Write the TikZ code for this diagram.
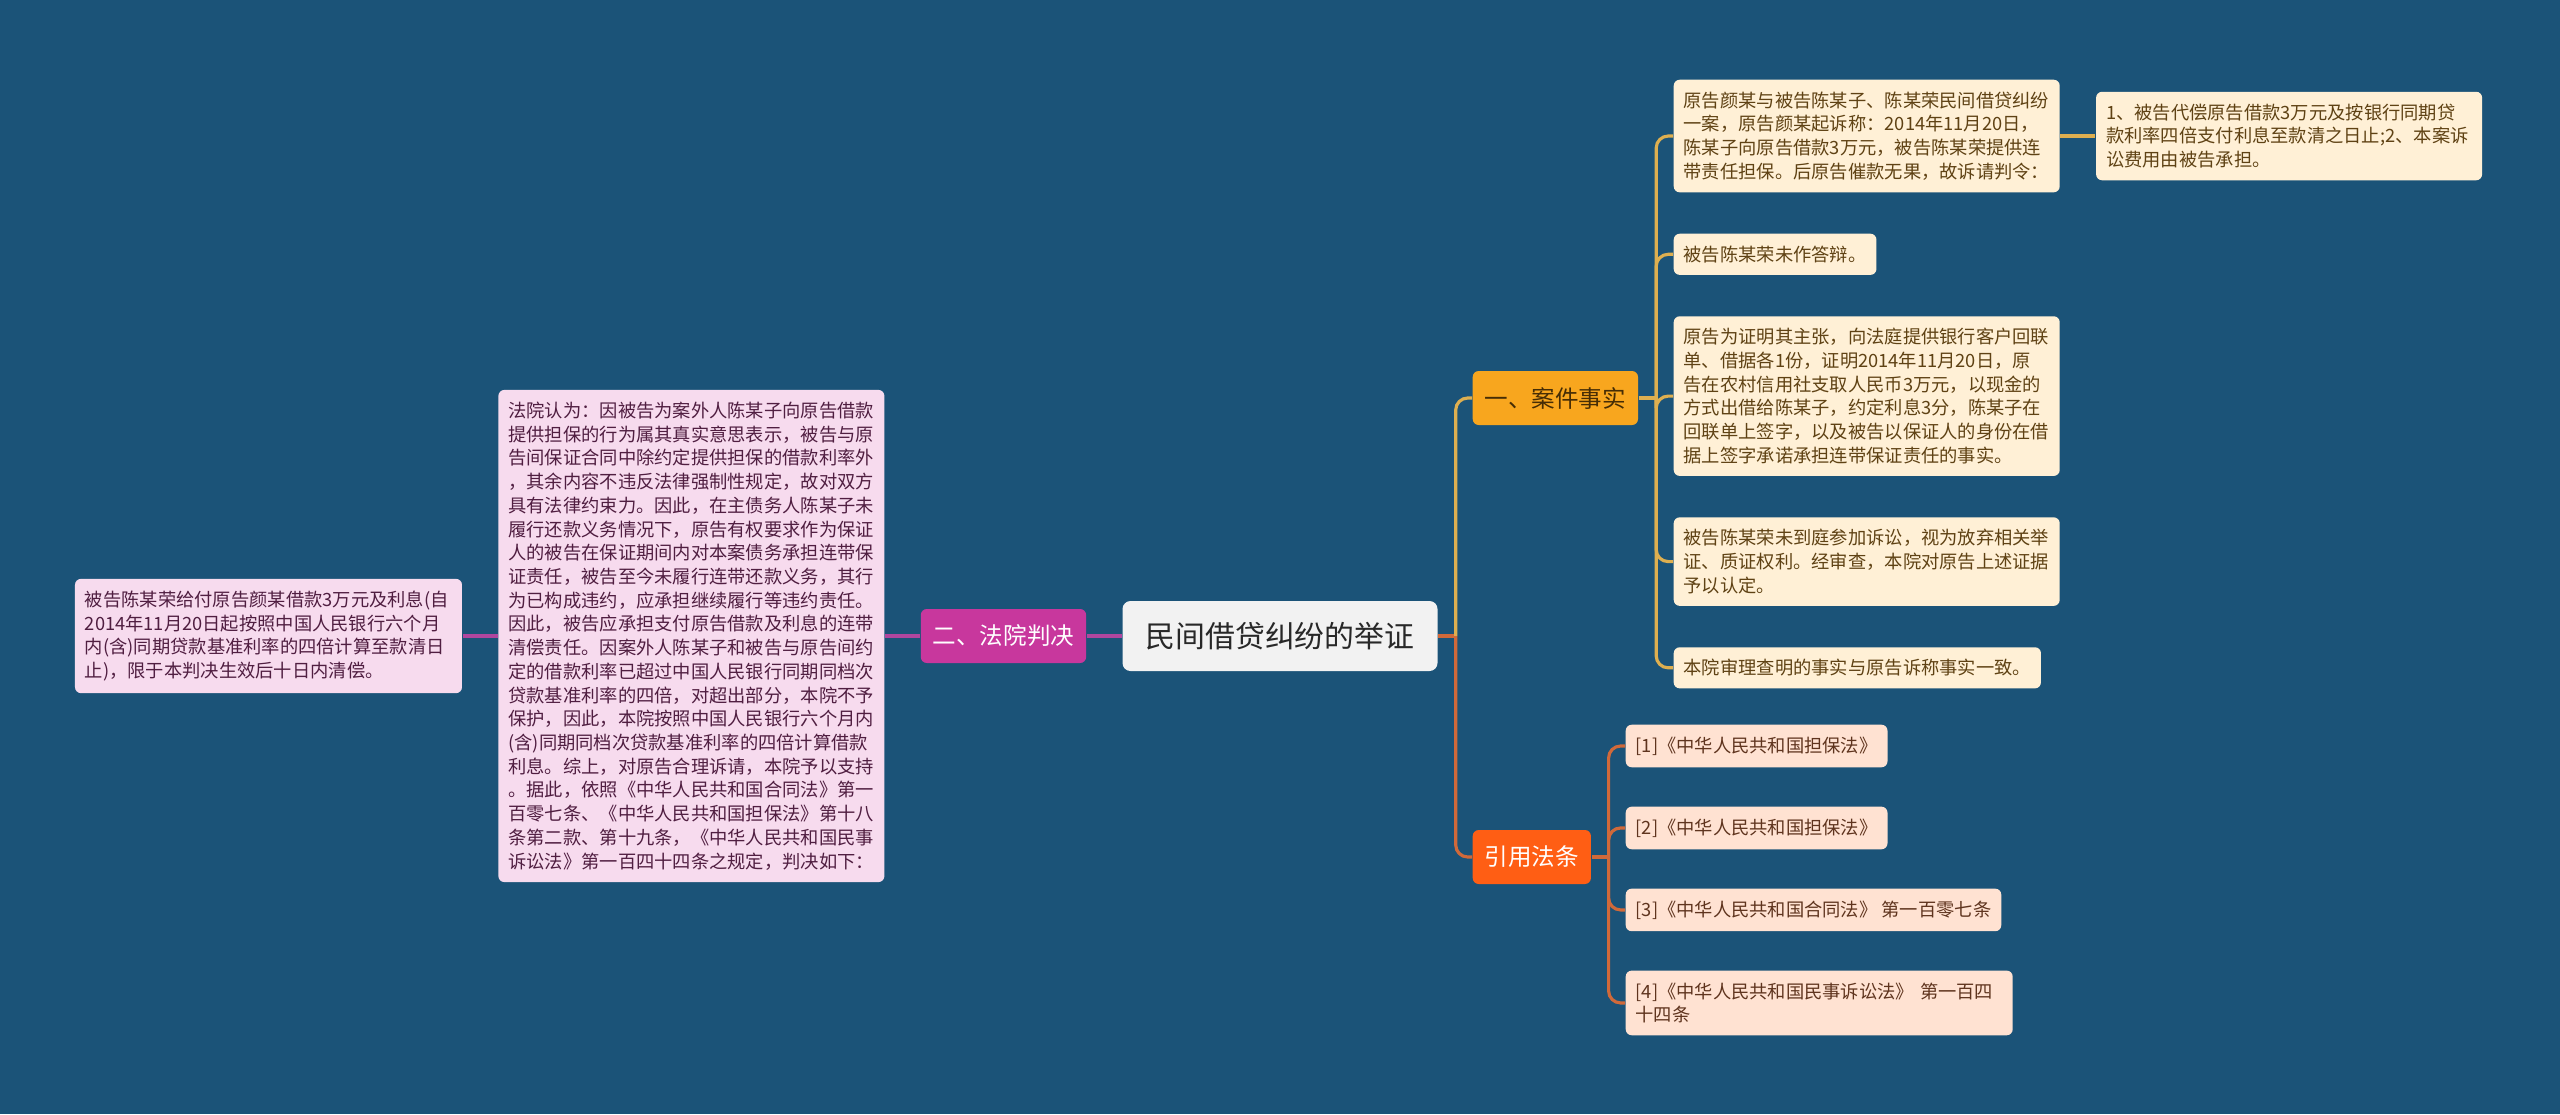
\documentclass[tikz,border=0pt]{standalone}
\usepackage{fontspec}
\setmainfont{Noto Sans CJK SC}
\usetikzlibrary{positioning}
\definecolor{bgblue}{RGB}{27,83,120}
\definecolor{rootfill}{RGB}{242,242,242}
\definecolor{roottext}{RGB}{40,40,40}
\definecolor{judgefill}{RGB}{200,55,157}
\definecolor{courtfill}{RGB}{247,219,238}
\definecolor{courttext}{RGB}{80,30,65}
\definecolor{courtcol}{RGB}{176,70,158}
\definecolor{factsfill}{RGB}{248,166,30}
\definecolor{factstext}{RGB}{70,45,5}
\definecolor{factfill}{RGB}{255,240,214}
\definecolor{facttext}{RGB}{95,66,20}
\definecolor{factcol}{RGB}{222,175,80}
\definecolor{lawsfill}{RGB}{255,94,20}
\definecolor{lawfill}{RGB}{255,226,210}
\definecolor{lawtext}{RGB}{95,52,30}
\definecolor{lawcol}{RGB}{208,105,58}

\begin{document}
\begin{tikzpicture}[node distance=0.35cm,
  rootbox/.style={fill=rootfill, text=roottext, rounded corners=0.08cm,
    font=\fontsize{8.5pt}{10pt}\selectfont, minimum width=3.15cm, minimum height=0.70cm},
  branch/.style={rounded corners=0.06cm, font=\fontsize{6.7pt}{8pt}\selectfont,
    minimum height=0.54cm, inner xsep=0.12cm},
  leaf/.style={rounded corners=0.06cm, align=left, font=\fontsize{5.2pt}{6.75pt}\selectfont,
    inner xsep=0.10cm, inner ysep=0.12cm},
  fact/.style={leaf, fill=factfill, text=facttext},
  law/.style={leaf, fill=lawfill, text=lawtext},
  court/.style={leaf, fill=courtfill, text=courttext},
  factlink/.style={draw=factcol, line width=0.9pt},
  lawlink/.style={draw=lawcol, line width=0.9pt},
  courtlink/.style={draw=courtcol, line width=0.9pt}]
  \fill[bgblue] (0,0) rectangle (25.6,-11.14);
  \useasboundingbox (0,0) rectangle (25.6,-11.14);

  \node [rootbox] (root) at (12.80,-6.36) {民间借贷纠纷的举证};

  \node [branch, fill=judgefill, text=white, left=of root] (judge) {二、法院判决};
  \node [court, text width=3.66cm, left=of judge] (ruling) {法院认为：因被告为案外人陈某子向原告借款\\提供担保的行为属其真实意思表示，被告与原\\告间保证合同中除约定提供担保的借款利率外\\，其余内容不违反法律强制性规定，故对双方\\具有法律约束力。因此，在主债务人陈某子未\\履行还款义务情况下，原告有权要求作为保证\\人的被告在保证期间内对本案债务承担连带保\\证责任，被告至今未履行连带还款义务，其行\\为已构成违约，应承担继续履行等违约责任。\\因此，被告应承担支付原告借款及利息的连带\\清偿责任。因案外人陈某子和被告与原告间约\\定的借款利率已超过中国人民银行同期同档次\\贷款基准利率的四倍，对超出部分，本院不予\\保护，因此，本院按照中国人民银行六个月内\\(含)同期同档次贷款基准利率的四倍计算借款\\利息。综上，对原告合理诉请，本院予以支持\\。据此，依照《中华人民共和国合同法》第一\\百零七条、《中华人民共和国担保法》第十八\\条第二款、第十九条，《中华人民共和国民事\\诉讼法》第一百四十四条之规定，判决如下：};
  \node [court, text width=3.67cm, left=of ruling] (verdict) {被告陈某荣给付原告颜某借款3万元及利息(自\\2014年11月20日起按照中国人民银行六个月\\内(含)同期贷款基准利率的四倍计算至款清日\\止)，限于本判决生效后十日内清偿。};

  \node [branch, fill=factsfill, text=factstext, anchor=west] (facts) at (14.72,-3.98) {一、案件事实};
  \node [fact, text width=3.66cm, anchor=north west] (f1) at (16.73,-0.79) {原告颜某与被告陈某子、陈某荣民间借贷纠纷\\一案，原告颜某起诉称：2014年11月20日，\\陈某子向原告借款3万元，被告陈某荣提供连\\带责任担保。后原告催款无果，故诉请判令：};
  \node [fact, text width=3.66cm, right=of f1] (r1) {1、被告代偿原告借款3万元及按银行同期贷\\款利率四倍支付利息至款清之日止;2、本案诉\\讼费用由被告承担。};
  \node [fact, below right=0.40cm and 0cm of f1.south west] (f2) {被告陈某荣未作答辩。};
  \node [fact, text width=3.66cm, below right=0.40cm and 0cm of f2.south west] (f3) {原告为证明其主张，向法庭提供银行客户回联\\单、借据各1份，证明2014年11月20日，原\\告在农村信用社支取人民币3万元，以现金的\\方式出借给陈某子，约定利息3分，陈某子在\\回联单上签字，以及被告以保证人的身份在借\\据上签字承诺承担连带保证责任的事实。};
  \node [fact, text width=3.66cm, below right=0.40cm and 0cm of f3.south west] (f4) {被告陈某荣未到庭参加诉讼，视为放弃相关举\\证、质证权利。经审查，本院对原告上述证据\\予以认定。};
  \node [fact, below right=0.40cm and 0cm of f4.south west] (f5) {本院审理查明的事实与原告诉称事实一致。};

  \node [branch, fill=lawsfill, text=white, anchor=west] (laws) at (14.72,-8.57) {引用法条};
  \node [law, anchor=north west] (l1) at (16.25,-7.24) {[1]《中华人民共和国担保法》};
  \node [law, below right=0.38cm and 0cm of l1.south west] (l2) {[2]《中华人民共和国担保法》};
  \node [law, below right=0.38cm and 0cm of l2.south west] (l3) {[3]《中华人民共和国合同法》 第一百零七条};
  \node [law, text width=3.67cm, below right=0.38cm and 0cm of l3.south west] (l4) {[4]《中华人民共和国民事诉讼法》 第一百四\\十四条};

  \coordinate [right=0.175cm of root.east] (rbar);
  \coordinate [right=0.175cm of facts.east] (fbar);
  \coordinate [right=0.17cm of laws.east] (lbar);

  \draw [courtlink] (root) -- (judge);
  \draw [courtlink] (judge) -- (ruling);
  \draw [courtlink] (ruling) -- (verdict);

  \draw [lawlink] (root.east) -- (rbar);
  \draw [factlink, rounded corners=0.12cm] (rbar) |- (facts.west);
  \draw [lawlink, rounded corners=0.12cm] (rbar) |- (laws.west);

  \draw [factlink] (facts.east) -- (fbar);
  \foreach \n in {f1,f2,f3,f4,f5}
    \draw [factlink, rounded corners=0.12cm] (fbar) |- (\n.west);
  \draw [factlink] (f1) -- (r1);

  \draw [lawlink] (laws.east) -- (lbar);
  \foreach \n in {l1,l2,l3,l4}
    \draw [lawlink, rounded corners=0.12cm] (lbar) |- (\n.west);
\end{tikzpicture}
\end{document}
